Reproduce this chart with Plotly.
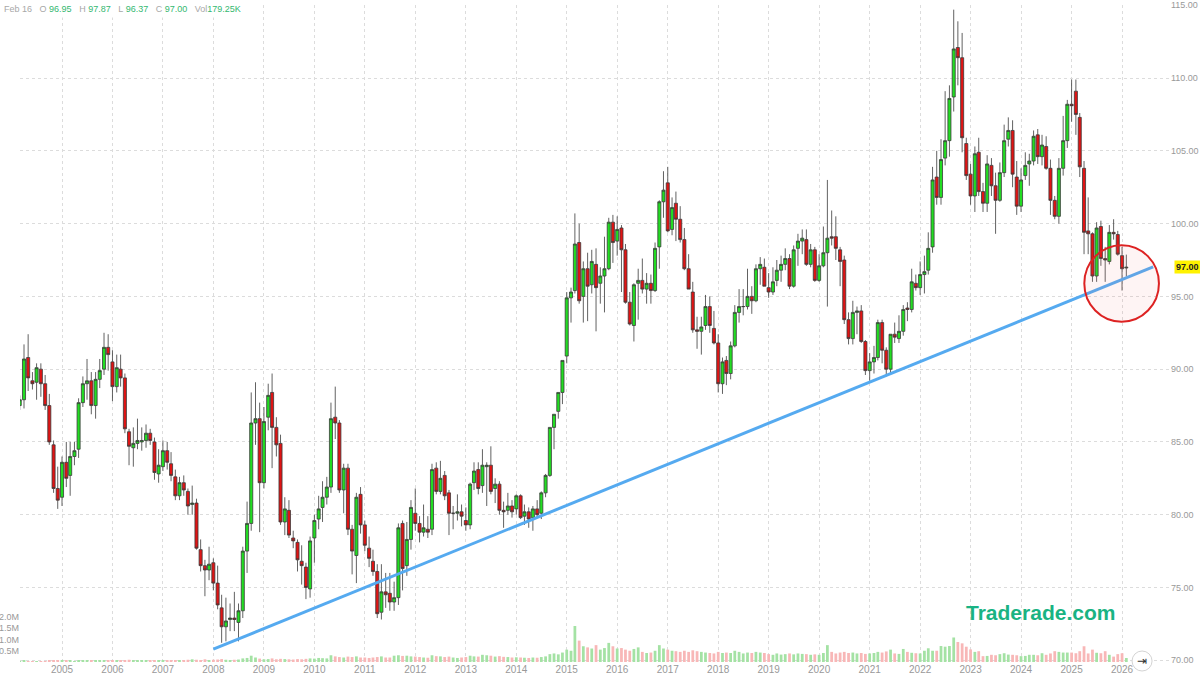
import pandas as pd
import plotly.graph_objects as go

# monthly bars, Mar 2004 .. Feb 2026
first_month = '2004-03-01'
last_month = '2026-02-01'
header_date = 'Feb 16'

opens = [
    87.5, 87.9, 90.8, 89.2, 89.1, 90.0, 89.0, 87.5, 84.8, 81.8,
    81.2, 83.6, 82.7, 84.0, 84.5, 87.7, 89.0, 89.2, 87.5, 89.3, 90.0, 91.5,
    90.5, 88.8, 90.0, 89.4, 85.7, 84.6, 84.9, 85.0, 85.1, 85.6, 85.0, 82.8,
    83.3, 84.4, 83.5, 82.6, 81.3, 82.2, 81.6, 80.7, 80.8, 77.6, 76.5, 76.2,
    76.7, 75.3, 73.6, 72.3, 72.8, 72.9, 72.6, 73.4, 77.5, 79.4, 86.3, 86.6,
    82.2, 86.7, 88.4, 86.0, 84.9, 79.5, 80.3, 78.4, 78.1, 76.8, 76.4, 74.9,
    78.4, 79.7, 80.5, 81.2, 81.9, 86.7, 86.3, 81.7, 83.2, 79.0, 77.2, 81.4,
    79.3, 77.7, 76.8, 76.1, 73.3, 74.7, 74.6, 74.0, 74.3, 79.4, 76.5, 78.3,
    80.1, 79.4, 78.8, 79.0, 79.0, 83.2, 81.6, 82.7, 81.5, 80.1, 80.1, 80.2,
    79.6, 79.3, 82.2, 83.1, 82.0, 83.3, 83.4, 81.8, 82.1, 80.3, 80.3, 80.6,
    80.4, 81.3, 79.9, 80.2, 79.8, 80.4, 80.1, 81.5, 82.7, 86.0, 87.1, 88.4,
    90.9, 94.9, 95.4, 98.7, 95.0, 96.9, 95.8, 97.2, 95.9, 96.4, 96.9, 100.1,
    98.8, 99.7, 98.2, 94.6, 93.0, 95.9, 96.1, 95.5, 95.9, 95.4, 98.4, 101.5,
    102.8, 99.6, 101.4, 100.3, 98.9, 96.9, 95.3, 92.7, 92.6, 93.0, 94.3, 92.8,
    91.8, 89.0, 90.6, 89.7, 91.6, 93.9, 94.3, 94.3, 95.0, 94.7, 96.9, 97.0,
    95.6, 95.3, 96.1, 96.8, 97.2, 97.6, 95.7, 98.3, 98.8, 98.9, 97.2, 98.2,
    96.1, 97.1, 98.0, 99.1, 99.1, 98.2, 97.5, 93.4, 92.1, 93.9, 94.0, 91.9,
    89.9, 90.5, 90.8, 93.2, 91.3, 90.0, 92.4, 92.1, 92.6, 94.2, 94.1, 95.9,
    95.6, 96.5, 96.8, 98.4, 103.2, 101.8, 104.5, 105.7, 108.7, 112.1, 111.4, 105.5,
    103.4, 101.9, 104.9, 102.2, 101.4, 104.0, 102.6, 101.6, 103.5, 105.8, 106.4, 103.2,
    101.2, 103.3, 104.1, 104.3, 106.1, 104.6, 105.3, 103.8, 101.6, 100.5, 103.8, 105.7,
    108.2, 109.1, 107.3, 103.8, 99.5, 99.3, 96.4, 99.8, 97.6, 97.4, 99.4, 99.25,
    97.8, 96.95,
]
highs = [
    88.2, 91.7, 92.4, 89.8, 90.4, 90.4, 89.6, 88.3, 85.1, 83.3,
    84.0, 85.0, 85.0, 85.0, 88.0, 89.5, 90.7, 89.8, 89.8, 90.7, 92.5, 92.4,
    91.3, 91.0, 91.0, 89.7, 85.9, 86.0, 86.6, 86.0, 86.2, 85.9, 85.3, 84.5,
    85.1, 85.0, 84.3, 83.1, 82.6, 82.7, 81.8, 82.0, 81.1, 78.3, 76.9, 77.8,
    77.0, 76.5, 74.5, 74.3, 73.9, 74.7, 73.9, 77.8, 80.9, 88.4, 89.1, 87.7,
    87.4, 89.0, 89.7, 86.7, 85.5, 81.2, 81.0, 78.9, 78.3, 77.9, 76.7, 78.5,
    80.0, 81.3, 82.3, 82.6, 87.7, 88.8, 86.5, 83.5, 83.5, 79.3, 81.5, 81.9,
    79.6, 78.5, 77.6, 76.6, 76.6, 76.0, 76.0, 75.4, 79.4, 79.6, 79.5, 81.0,
    81.8, 79.9, 80.7, 79.9, 83.5, 83.6, 83.7, 83.0, 81.7, 80.6, 81.4, 80.7,
    80.5, 82.2, 83.6, 83.6, 84.5, 83.6, 84.7, 82.5, 82.3, 80.9, 81.5, 81.0,
    81.4, 81.4, 80.7, 80.5, 80.6, 81.0, 81.6, 82.8, 86.0, 86.9, 88.4, 90.6,
    95.3, 95.6, 100.7, 100.0, 97.4, 98.0, 98.2, 98.3, 97.0, 99.1, 100.4, 100.6,
    100.5, 99.9, 98.6, 95.3, 95.9, 96.9, 97.6, 96.6, 96.5, 98.7, 101.6, 103.6,
    103.9, 101.8, 102.2, 101.2, 99.7, 97.9, 96.0, 93.6, 93.6, 95.1, 95.0, 94.0,
    92.4, 90.8, 90.9, 91.9, 94.4, 95.5, 95.5, 96.9, 95.7, 97.2, 97.7, 97.6,
    96.6, 97.0, 97.5, 97.8, 98.3, 97.9, 98.5, 99.3, 99.6, 99.6, 98.6, 98.4,
    97.9, 99.8, 103.0, 100.9, 100.5, 98.4, 97.8, 93.9, 94.7, 94.3, 94.4, 92.0,
    91.1, 91.6, 93.4, 93.4, 91.5, 92.4, 93.2, 93.7, 94.4, 94.6, 96.9, 96.5,
    97.4, 97.8, 99.4, 103.9, 105.0, 105.8, 109.1, 109.5, 114.7, 113.9, 113.1, 105.9,
    104.1, 105.3, 105.9, 102.8, 104.7, 104.5, 103.5, 104.2, 106.8, 107.3, 107.1, 104.3,
    103.8, 104.9, 104.8, 106.4, 106.5, 106.1, 106.0, 104.4, 101.9, 104.5, 107.4, 108.5,
    109.9, 109.9, 107.6, 104.3, 101.8, 99.4, 100.1, 100.2, 98.4, 99.9, 100.3, 99.5,
    98.4, 97.87,
]
lows = [
    87.2, 87.3, 88.5, 88.6, 87.9, 88.1, 87.2, 84.8, 81.5, 80.4,
    80.6, 81.9, 81.3, 83.4, 83.9, 87.4, 87.9, 86.9, 86.6, 88.7, 89.6, 89.9,
    87.8, 88.4, 88.8, 85.6, 83.4, 83.3, 84.5, 84.4, 84.6, 84.8, 82.4, 82.2,
    83.0, 83.1, 82.3, 81.0, 81.0, 81.3, 80.0, 80.0, 77.6, 76.1, 74.4, 75.5,
    74.8, 73.5, 71.2, 71.3, 72.0, 72.0, 71.3, 72.9, 76.0, 78.9, 84.8, 78.8,
    81.8, 85.8, 83.2, 84.0, 79.3, 78.6, 78.4, 77.7, 76.1, 75.2, 74.2, 74.3,
    76.7, 79.0, 79.5, 80.7, 81.5, 85.2, 81.5, 80.1, 78.6, 75.9, 75.3, 78.7,
    77.5, 76.4, 75.8, 72.9, 72.8, 73.6, 73.4, 73.4, 73.8, 74.8, 75.8, 77.6,
    78.9, 78.1, 78.5, 78.4, 78.6, 81.4, 81.4, 81.0, 78.6, 79.0, 79.6, 79.2,
    78.9, 79.0, 81.7, 81.4, 81.5, 80.6, 81.4, 80.8, 80.0, 79.1, 80.0, 79.8,
    80.0, 79.7, 79.3, 79.1, 78.9, 79.8, 79.7, 81.2, 82.6, 84.5, 86.6, 87.6,
    90.4, 93.2, 95.2, 94.5, 93.2, 93.3, 95.2, 92.6, 94.5, 93.9, 96.8, 97.3,
    97.8, 95.3, 94.5, 93.0, 91.9, 93.4, 95.2, 94.5, 94.5, 95.3, 96.9, 100.4,
    99.4, 99.2, 98.8, 98.7, 96.8, 95.5, 92.5, 91.4, 91.0, 92.7, 92.5, 91.7,
    88.4, 88.3, 88.9, 89.3, 91.5, 93.2, 93.7, 94.1, 93.8, 94.6, 95.8, 95.7,
    94.9, 95.1, 95.7, 96.0, 96.8, 95.5, 95.6, 97.1, 97.9, 97.1, 97.0, 96.0,
    96.0, 97.0, 94.3, 98.5, 97.5, 95.7, 93.1, 91.7, 91.7, 92.4, 91.8, 89.6,
    89.2, 89.7, 90.6, 90.4, 89.5, 89.6, 91.8, 91.8, 92.3, 93.3, 93.9, 95.4,
    95.1, 95.2, 96.5, 98.0, 101.3, 101.3, 104.0, 104.6, 107.7, 109.5, 104.9, 103.0,
    101.3, 100.8, 101.9, 100.8, 100.8, 101.9, 99.3, 101.5, 103.2, 105.3, 102.5, 100.6,
    100.8, 103.0, 102.6, 104.0, 104.1, 104.0, 103.7, 100.6, 100.3, 100.0, 103.3, 105.2,
    107.0, 106.1, 103.2, 97.9, 97.9, 96.0, 96.0, 97.1, 96.0, 97.2, 98.9, 97.8,
    95.4, 96.37,
]
closes = [
    87.9, 90.7, 89.4, 89.0, 90.1, 89.0, 87.5, 85.0, 81.8, 81.0,
    83.6, 82.5, 84.0, 84.4, 87.7, 89.0, 89.2, 87.5, 89.3, 89.9, 91.5, 91.0,
    88.8, 90.1, 89.4, 85.9, 84.7, 84.9, 85.1, 85.1, 85.6, 85.1, 82.9, 83.4,
    84.4, 83.6, 82.7, 81.3, 82.2, 81.7, 80.6, 80.8, 77.7, 76.5, 76.2, 76.6,
    75.3, 73.8, 72.3, 72.7, 72.9, 72.8, 73.4, 77.5, 79.4, 86.3, 86.6, 82.2,
    86.4, 88.2, 86.0, 84.8, 79.5, 80.4, 78.6, 78.2, 76.9, 76.5, 75.0, 78.2,
    79.6, 80.4, 81.2, 81.9, 86.6, 86.3, 81.7, 83.2, 79.0, 77.5, 81.2, 79.3,
    77.9, 77.0, 76.1, 73.2, 74.7, 74.5, 74.0, 74.3, 79.1, 76.3, 78.3, 80.5,
    79.4, 78.8, 79.1, 78.8, 83.1, 81.6, 82.5, 81.3, 80.1, 80.1, 80.2, 79.9,
    79.3, 82.1, 83.0, 81.8, 83.4, 83.4, 81.6, 82.1, 80.3, 80.2, 80.6, 80.2,
    81.3, 79.8, 80.2, 79.7, 80.4, 80.0, 81.5, 82.7, 86.0, 86.9, 88.4, 90.6,
    94.9, 95.3, 98.6, 94.7, 96.9, 95.7, 97.4, 95.6, 96.4, 96.9, 100.1, 98.7,
    99.6, 98.2, 94.6, 93.1, 95.8, 96.1, 95.5, 95.9, 95.4, 98.3, 101.5, 102.3,
    99.5, 101.1, 100.3, 98.9, 96.9, 95.5, 92.7, 92.6, 92.9, 94.3, 93.0, 91.8,
    89.0, 90.5, 89.7, 91.6, 93.9, 94.3, 94.3, 95.0, 94.7, 96.9, 97.2, 95.7,
    95.3, 96.0, 96.8, 97.2, 97.6, 95.7, 98.2, 98.8, 99.0, 97.2, 98.2, 96.1,
    97.1, 98.0, 99.0, 99.0, 98.3, 97.4, 93.4, 92.1, 93.9, 94.0, 91.9, 89.9,
    90.5, 90.8, 93.2, 91.3, 90.0, 92.4, 92.2, 92.6, 94.1, 94.1, 96.0, 95.6,
    96.5, 96.7, 98.3, 103.0, 101.8, 104.4, 105.7, 108.6, 112.0, 111.4, 105.9, 103.3,
    101.9, 104.8, 102.2, 101.4, 104.1, 102.6, 101.6, 103.5, 105.7, 106.4, 103.4, 101.2,
    103.0, 104.0, 104.3, 106.0, 104.6, 105.4, 103.8, 101.6, 100.5, 103.8, 105.7, 108.2,
    108.1, 107.5, 103.9, 99.4, 99.3, 96.4, 99.7, 97.6, 97.5, 99.4, 99.3, 97.9,
    96.9, 97.0,
]
# volume in millions of contracts
volumes = [
    0.03, 0.05, 0.04, 0.03, 0.04, 0.04, 0.03, 0.05, 0.06, 0.05,
    0.05, 0.06, 0.05, 0.04, 0.07, 0.06, 0.05, 0.06, 0.05, 0.06, 0.08, 0.07,
    0.07, 0.06, 0.08, 0.09, 0.10, 0.08, 0.07, 0.06, 0.07, 0.06, 0.08, 0.07,
    0.08, 0.07, 0.09, 0.08, 0.07, 0.08, 0.10, 0.12, 0.10, 0.09, 0.12, 0.09,
    0.10, 0.11, 0.13, 0.10, 0.09, 0.10, 0.11, 0.16, 0.18, 0.28, 0.20, 0.15,
    0.12, 0.13, 0.16, 0.12, 0.14, 0.13, 0.12, 0.11, 0.13, 0.12, 0.14, 0.16,
    0.15, 0.18, 0.17, 0.16, 0.30, 0.25, 0.22, 0.20, 0.24, 0.22, 0.25, 0.20,
    0.20, 0.18, 0.20, 0.22, 0.25, 0.20, 0.20, 0.28, 0.30, 0.27, 0.28, 0.25,
    0.24, 0.22, 0.20, 0.19, 0.30, 0.26, 0.25, 0.22, 0.24, 0.20, 0.18, 0.20,
    0.22, 0.28, 0.25, 0.24, 0.32, 0.30, 0.28, 0.24, 0.26, 0.23, 0.22, 0.20,
    0.21, 0.20, 0.19, 0.18, 0.20, 0.19, 0.22, 0.25, 0.35, 0.38, 0.34, 0.42,
    0.55, 0.50, 1.60, 0.95, 0.70, 0.65, 0.60, 0.75, 0.55, 0.62, 0.85, 0.70,
    0.60, 0.62, 0.55, 0.50, 0.58, 0.65, 0.45, 0.40, 0.42, 0.50, 0.75, 0.60,
    0.55, 0.50, 0.48, 0.45, 0.50, 0.45, 0.52, 0.48, 0.45, 0.42, 0.40, 0.38,
    0.45, 0.40, 0.42, 0.40, 0.50, 0.45, 0.38, 0.42, 0.40, 0.45, 0.42, 0.40,
    0.35, 0.32, 0.38, 0.33, 0.35, 0.38, 0.34, 0.38, 0.36, 0.35, 0.32, 0.34,
    0.32, 0.40, 0.75, 0.45, 0.38, 0.42, 0.45, 0.40, 0.42, 0.38, 0.40, 0.36,
    0.38, 0.40, 0.45, 0.42, 0.47, 0.55, 0.38, 0.36, 0.58, 0.45, 0.41, 0.39,
    0.38, 0.50, 0.61, 0.50, 0.50, 0.71, 0.68, 0.71, 1.09, 0.89, 0.83, 0.68,
    0.56, 0.45, 0.48, 0.26, 0.27, 0.32, 0.30, 0.35, 0.39, 0.33, 0.32, 0.30,
    0.26, 0.27, 0.32, 0.32, 0.30, 0.39, 0.32, 0.38, 0.48, 0.45, 0.42, 0.42,
    0.42, 0.39, 0.48, 0.70, 0.38, 0.55, 0.41, 0.39, 0.48, 0.32, 0.24, 0.35,
    0.39, 0.17925,
]

price_ticks = [70, 75, 80, 85, 90, 95, 100, 105, 110, 115]
vol_ticks = [0.5, 1.0, 1.5, 2.0]

# hand-drawn annotations on the chart
trend_dates = ['2008-01-01', '2026-08-14']
trend_values = [70.76, 97.03]
circle_dates = ['2025-04-03', '2026-09-25']
circle_values = [93.26, 98.52]

months = pd.date_range(first_month, last_month, freq='MS')
vol_colors = ['#a4e2a4' if c >= o else '#f8b7b7' for o, c in zip(opens, closes)]

fig = go.Figure()

fig.add_trace(go.Bar(x=months, y=volumes, marker_color=vol_colors, marker_line_width=0,
                     width=20 * 86400000, yaxis='y2', hoverinfo='skip'))

fig.add_trace(go.Candlestick(x=months, open=opens, high=highs, low=lows, close=closes,
                             increasing=dict(fillcolor='#22dd22', line=dict(color='#3a3a3a', width=0.8)),
                             decreasing=dict(fillcolor='#e01414', line=dict(color='#3a3a3a', width=0.8)),
                             whiskerwidth=0))

fig.add_trace(go.Scatter(x=trend_dates, y=trend_values, mode='lines',
                         line=dict(color='#55aaf0', width=3), hoverinfo='skip'))

fig.add_shape(type='circle', xref='x', yref='y',
              x0=circle_dates[0], x1=circle_dates[1], y0=circle_values[0], y1=circle_values[1],
              line=dict(color='#dd2222', width=2), fillcolor='rgba(240,120,120,0.08)')

grey = '#a8a8a8'
green = '#34b870'
sp = '\u00a0' * 3
header = (f"<span style='color:{grey}'>{header_date}</span>{sp}"
          f"<span style='color:{grey}'>O</span>\u00a0<span style='color:{green}'>{opens[-1]:.2f}</span>{sp}"
          f"<span style='color:{grey}'>H</span>\u00a0<span style='color:{green}'>{highs[-1]:.2f}</span>{sp}"
          f"<span style='color:{grey}'>L</span>\u00a0<span style='color:{green}'>{lows[-1]:.2f}</span>{sp}"
          f"<span style='color:{grey}'>C</span>\u00a0<span style='color:{green}'>{closes[-1]:.2f}</span>{sp}"
          f"<span style='color:{grey}'>Vol</span><span style='color:{green}'>{volumes[-1] * 1000:.2f}K</span>")
fig.add_annotation(text=header, xref='paper', yref='paper', x=0, y=1, xanchor='left', yanchor='middle',
                   xshift=-20, yshift=-4, showarrow=False, bgcolor='white', borderpad=3,
                   font=dict(size=9, family='Liberation Sans, Arial, sans-serif'))

# last price tag
fig.add_annotation(text=f'<b>{closes[-1]:.2f}</b>', xref='paper', yref='y', x=1, y=closes[-1],
                   xanchor='left', yanchor='middle', xshift=4, showarrow=False,
                   bgcolor='#fff200', borderpad=1, font=dict(size=9, color='#222'))

fig.add_annotation(text='<b>Traderade.com</b>', xref='paper', yref='paper', x=0.887, y=0.076,
                   xanchor='center', yanchor='middle', showarrow=False,
                   font=dict(size=21, color='#19b383', family='Liberation Sans, Arial, sans-serif'))

# scroll-to-end button
fig.add_shape(type='circle', xref='paper', yref='paper', xsizemode='pixel', ysizemode='pixel',
              xanchor=0.9757, yanchor=0.0015, x0=-10, x1=10, y0=-10, y1=10,
              fillcolor='white', line=dict(color='#d4d4d4', width=1), layer='above')
fig.add_annotation(text='⇥', xref='paper', yref='paper', x=0.9757, y=0.0015,
                   xanchor='center', yanchor='middle', showarrow=False,
                   font=dict(size=12, color='#333'))

fig.update_layout(
    width=1200, height=675,
    margin=dict(l=20, r=30, t=5, b=13),
    paper_bgcolor='white', plot_bgcolor='white',
    showlegend=False,
    boxgap=0.12, boxgroupgap=0.1,
    font=dict(family='Liberation Sans, Arial, sans-serif', size=10, color='#999'),
    xaxis=dict(type='date', range=['2004-03-03', '2026-12-14'], dtick='M12', tick0='2005-01-01',
               tickformat='%Y', showgrid=True, gridcolor='#dcdcdc', griddash='dot',
               zeroline=False, showline=False, ticks='', rangeslider=dict(visible=False),
               automargin=False, tickfont=dict(size=10, color='#999')),
    yaxis=dict(side='right', range=[69.88, 115.02], tickvals=price_ticks, tickformat='.2f',
               showgrid=True, gridcolor='#dcdcdc', griddash='dot', zeroline=False,
               ticks='', automargin=False, ticklabeloverflow='allow',
               tickfont=dict(size=9, color='#999')),
    yaxis2=dict(overlaying='y', side='left', range=[0, 29.2], tickvals=vol_ticks,
                ticktext=[f'{v:.1f}M' for v in vol_ticks], showgrid=False, zeroline=False,
                ticks='', automargin=False, tickfont=dict(size=9, color='#999')),
)

fig.write_html('out.html', config={'displayModeBar': False},
               post_script="document.body.style.margin='0';")
